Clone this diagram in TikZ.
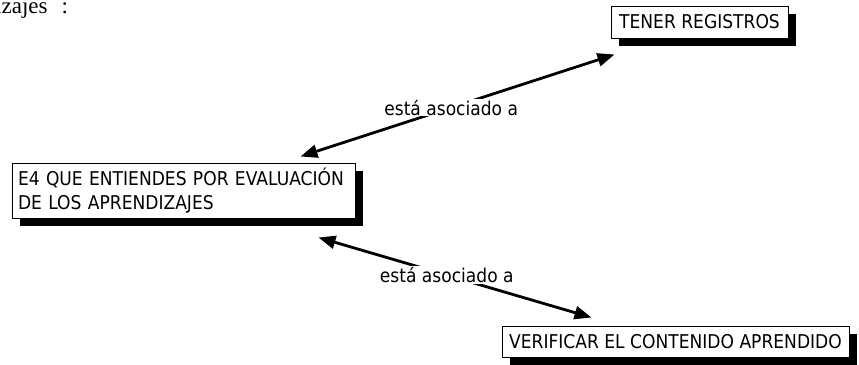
\documentclass[tikz,border=0pt]{standalone}
\usepackage{fontspec}
\newfontfamily\tahfont[FakeStretch=0.9]{DejaVu Sans}
\newfontfamily\serfont{Liberation Serif}
\usetikzlibrary{arrows.meta,shadows}
\tikzset{
  cbox/.style={draw, line width=1pt, fill=white, inner xsep=6pt, inner ysep=0pt,
    font=\tahfont\fontsize{19}{24}\selectfont,
    drop shadow={shadow xshift=8pt, shadow yshift=-8pt, fill=black, opacity=1}},
  link/.style={{Triangle[length=17pt,width=13pt]}-{Triangle[length=17pt,width=13pt]}, line width=2.8pt},
  lbl/.style={fill=white, inner sep=1pt, font=\tahfont\fontsize{19}{24}\selectfont}
}
\begin{document}
\begin{tikzpicture}[x=1pt,y=-1pt]
\useasboundingbox (0,0) rectangle (859,364);
\node[anchor=base west, inner sep=0pt, font=\serfont\fontsize{23}{24}\selectfont] (frag) at (-5,13) {izajes\hspace{14pt}:};
\node[cbox, minimum width=177pt, minimum height=32pt] (tener) at (699.5,22) {TENER REGISTROS};
\node[cbox, minimum height=55pt, text width=331pt, align=left] (e4) at (183.5,190.5) {E4 QUE ENTIENDES POR EVALUACIÓN\\DE LOS APRENDIZAJES};
\node[cbox, minimum width=347pt, minimum height=31pt] (verif) at (675.5,341.5) {VERIFICAR EL CONTENIDO APRENDIDO};
\draw[link] ([shift={(-55,-6)}]e4.north east) -- node[lbl, pos=0.48]{está asociado a} ([shift={(4,16)}]tener.south west);
\draw[link] ([shift={(-37,19)}]e4.south east) -- node[lbl, pos=0.47]{está asociado a} ([shift={(90,-8)}]verif.north west);
\end{tikzpicture}
\end{document}
